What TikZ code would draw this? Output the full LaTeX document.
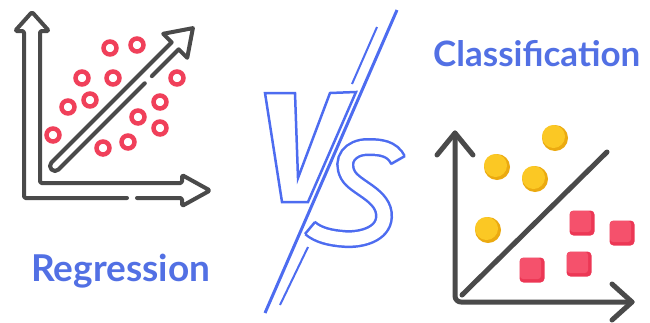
\documentclass[tikz,border=0pt]{standalone}
\usepackage{fontspec}
\setmainfont{Lato}
\usepackage{xcolor}
\usetikzlibrary{positioning, calc}

\definecolor{vsblue}{HTML}{4D6CF0}
\definecolor{titleblue}{HTML}{5270E4}
\definecolor{axisgray}{HTML}{4A4A4A}
\definecolor{ringred}{HTML}{F0405A}
\definecolor{dotgold}{HTML}{FBC824}
\definecolor{dotgolddark}{HTML}{EBAA10}
\definecolor{boxred}{HTML}{EC3755}
\definecolor{boxredlight}{HTML}{F5516C}

\tikzset{
  axisline/.style = {draw = axisgray, line width = 4pt, line cap = round,
    line join = round},
  clsaxis/.style = {draw = axisgray, line width = 5pt, line cap = round,
    line join = round},
  ring/.style = {draw = ringred, line width = 4.5pt},
  vsline/.style = {draw = vsblue, line width = 2.5pt},
  title/.style = {text = titleblue, font = \bfseries, inner sep = 0pt}
}

\begin{document}
\begin{tikzpicture}[x = 1pt, y = -1pt]
        \useasboundingbox (0,0) rectangle (650,322);
        % regression axes
        \draw [axisline, rounded corners = 1.5pt] (137,198) -- (182,198) --
        (182,206) -- (210,190.5) -- (182,175) -- (182,183) -- (40,183) --
        (40,31) -- (49,31) -- (32,12) -- (15,31) -- (24,31) -- (24,198) --
        (127,198);
        % trend arrow
        \begin{scope}[shift = {(55,166)}, rotate = 45]
                \draw [axisline] (132,5) -- (170,5) -- (170,17) -- (195,0) --
                (170,-17) -- (170,-5) -- (0,-5) arc (270:90:5) -- (122,5);
        \end{scope}
        % rings
        \draw [ring] (110,48) circle (6.5);
        \draw [ring] (137,45) circle (6.5);
        \draw [ring] (82,78) circle (6.5);
        \draw [ring] (113,78) circle (6.5);
        \draw [ring] (177,78) circle (6.5);
        \draw [ring] (68,107) circle (6.5);
        \draw [ring] (90,100) circle (6.5);
        \draw [ring] (160,102) circle (6.5);
        \draw [ring] (138,117) circle (6.5);
        \draw [ring] (160,128) circle (6.5);
        \draw [ring] (53,135) circle (6.5);
        \draw [ring] (128,142) circle (6.5);
        \draw [ring] (103,148) circle (6.5);
        \node [title, font = \fontsize{37}{40}\selectfont\bfseries,
        anchor = base west] (regtext) at (31,281) {Regression};

        % vs
        \draw [vsline, line join = miter] (265,93) -- (295,93) -- (298,178) --
        (330,93) -- (356,92) -- (308,202) -- (282,202) -- cycle;
        \draw [vsline, line width = 3pt] (397,10) -- (265,313);
        \draw [vsline, line width = 2pt] (377,27) -- (352,84);
        \draw [vsline, line width = 2pt] (308,247) -- (280,305);
        \draw [vsblue, line width = 2.5pt, double = white,
        double distance = 13pt] (398,160) .. controls (392,148) and (380,147)
        .. (368,147) .. controls (350,147) and (340,160) .. (348,175)
        .. controls (355,188) and (385,195) .. (384,217)
        .. controls (383,235) and (360,240) .. (345,239)
        .. controls (330,238) and (318,235) .. (310,228);
        \draw [vsline] (391,164) -- (405,156);
        \draw [vsline] (315,222) -- (305,234);

        % classification axes
        \draw [clsaxis] (437,155) -- (455,133) -- (473,155);
        \draw [clsaxis, rounded corners = 6pt] (455,133) -- (455,302) --
        (632,302);
        \draw [clsaxis] (612,284) -- (632,302) -- (612,320);
        \draw [clsaxis] (462,295) -- (607,152);
        % gold dots
        \fill [dotgolddark] (555,138) circle (13);
        \fill [dotgold] (553.5,136.5) circle (11.5);
        \fill [dotgolddark] (497,167) circle (13);
        \fill [dotgold] (495.5,165.5) circle (11.5);
        \fill [dotgolddark] (535,179) circle (13);
        \fill [dotgold] (533.5,177.5) circle (11.5);
        \fill [dotgolddark] (488,230) circle (13);
        \fill [dotgold] (486.5,228.5) circle (11.5);
        % red boxes
        \fill [boxred, rounded corners = 4pt] (569.5,210.5) rectangle ++(25,25);
        \fill [boxredlight, rounded corners = 3pt] (570,211) rectangle ++(21,21);
        \fill [boxred, rounded corners = 4pt] (609.5,220.5) rectangle ++(25,25);
        \fill [boxredlight, rounded corners = 3pt] (610,221) rectangle ++(21,21);
        \fill [boxred, rounded corners = 4pt] (566.5,251.5) rectangle ++(25,25);
        \fill [boxredlight, rounded corners = 3pt] (567,252) rectangle ++(21,21);
        \fill [boxred, rounded corners = 4pt] (519.5,257.5) rectangle ++(25,25);
        \fill [boxredlight, rounded corners = 3pt] (520,258) rectangle ++(21,21);
        \node [title, font = \fontsize{35}{38}\selectfont\bfseries,
        anchor = base west] (clstext) at (433,66) {Classification};
\end{tikzpicture}
\end{document}
